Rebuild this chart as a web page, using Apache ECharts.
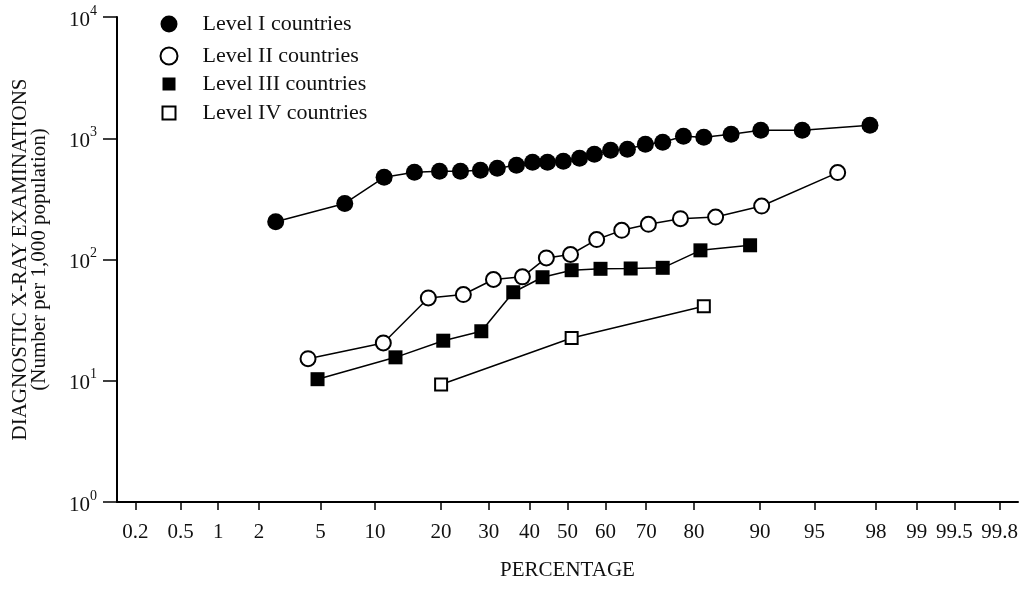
<!DOCTYPE html>
<html>
<head>
<meta charset="utf-8">
<title>Diagnostic X-ray examinations</title>
<script src="https://cdn.jsdelivr.net/npm/echarts@6/dist/echarts.min.js"></script>
<style>
    html, body { margin: 0; padding: 0; background: #fff; }
    #chart { width: 1030px; height: 591px; }
</style>
</head>
<body>
<div id="chart"></div>
<script>
// percentages (x) and examinations per 1,000 population (y)
const level1Pct = [2.6, 6.9, 11.1, 15.4, 19.7, 23.8, 28.1, 32.0, 36.7, 40.8, 44.7, 48.9, 53.2, 57.1, 61.3, 65.5, 69.8, 73.7, 78.0, 81.8, 86.2, 90.1, 94.1, 97.8];
const level1Val = [205, 290, 476, 524, 534, 534, 544, 565, 598, 634, 634, 645, 684, 738, 796, 811, 892, 927, 1039, 1019, 1080, 1165, 1165, 1280];

const level2Pct = [4.2, 11.0, 17.7, 24.4, 31.1, 38.2, 44.4, 50.8, 57.7, 64.1, 70.5, 77.4, 83.8, 90.2, 96.4];
const level2Val = [15.2, 20.5, 48.2, 51.4, 68.4, 71.9, 103, 110, 146, 174, 195, 217, 224, 276, 521];

const level3Pct = [4.8, 12.6, 20.4, 28.3, 35.9, 43.4, 51.1, 58.7, 66.3, 73.7, 81.2, 88.8];
const level3Val = [10.3, 15.6, 21.4, 25.6, 53.7, 71.4, 81.6, 83.8, 84.3, 85.4, 119, 131];

const level4Pct = [20.0, 51.1, 81.8];
const level4Val = [9.3, 22.5, 41.1];

const seriesNames = ['Level I countries', 'Level II countries', 'Level III countries', 'Level IV countries'];

// probability-scale ticks
const xTickLabels = ['0.2', '0.5', '1', '2', '5', '10', '20', '30', '40', '50', '60', '70', '80', '90', '95', '98', '99', '99.5', '99.8'];
const yTickValues = [1, 10, 100, 1000, 10000];

const FONT = '"Liberation Serif", "DejaVu Serif", serif';

// inverse normal cdf (Acklam), used to put percentages on probability paper
function probit(p) {
    const a = [-39.69683028665376, 220.9460984245205, -275.9285104469687, 138.3577518672690, -30.66479806614716, 2.506628277459239];
    const b = [-54.47609879822406, 161.5858368580409, -155.6989798598866, 66.80131188771972, -13.28068155288572];
    const c = [-0.007784894002430293, -0.3223964580411365, -2.400758277161838, -2.549732539343734, 4.374664141464968, 2.938163982698783];
    const d = [0.007784695709041462, 0.3224671290700398, 2.445134137142996, 3.754408661907416];
    const pl = 0.02425;
    let q, r;
    if (p < pl) {
        q = Math.sqrt(-2 * Math.log(p));
        return (((((c[0] * q + c[1]) * q + c[2]) * q + c[3]) * q + c[4]) * q + c[5]) /
            ((((d[0] * q + d[1]) * q + d[2]) * q + d[3]) * q + 1);
    }
    if (p > 1 - pl) {
        q = Math.sqrt(-2 * Math.log(1 - p));
        return -(((((c[0] * q + c[1]) * q + c[2]) * q + c[3]) * q + c[4]) * q + c[5]) /
            ((((d[0] * q + d[1]) * q + d[2]) * q + d[3]) * q + 1);
    }
    q = p - 0.5;
    r = q * q;
    return (((((a[0] * r + a[1]) * r + a[2]) * r + a[3]) * r + a[4]) * r + a[5]) * q /
        (((((b[0] * r + b[1]) * r + b[2]) * r + b[3]) * r + b[4]) * r + 1);
}

const xTickZ = xTickLabels.map(s => probit(parseFloat(s) / 100));

function toPoints(pcts, vals) {
    let pts = [];
    for (let i = 0; i < pcts.length; i++) {
        pts.push([probit(pcts[i] / 100), vals[i]]);
    }
    return pts;
}

const lineStyle = { color: '#000', width: 1.5 };

const chart = echarts.init(document.getElementById('chart'), null, { renderer: 'canvas' });

const option = {
    backgroundColor: '#fff',
    animation: false,
    textStyle: { fontFamily: FONT, color: '#111' },
    grid: { left: 117, right: 12, top: 17, bottom: 89, containLabel: false },
    legend: [
        {
            data: [seriesNames[0], seriesNames[1]],
            orient: 'vertical',
            left: 154.5,
            top: 8,
            itemWidth: 17,
            itemHeight: 17,
            itemGap: 10,
            icon: 'circle',
            selectedMode: false,
            textStyle: { fontFamily: FONT, fontSize: 22, lineHeight: 22, color: '#111', padding: [0, 0, 0, 20] }
        },
        {
            data: [seriesNames[2], seriesNames[3]],
            orient: 'vertical',
            left: 156.5,
            top: 68,
            itemWidth: 13,
            itemHeight: 13,
            itemGap: 7,
            icon: 'rect',
            selectedMode: false,
            textStyle: { fontFamily: FONT, fontSize: 22, lineHeight: 22, color: '#111', padding: [0, 0, 0, 22] }
        }
    ],
    xAxis: {
        type: 'value',
        min: -3,
        max: 3,
        name: 'PERCENTAGE',
        nameLocation: 'middle',
        nameGap: 58,
        nameTextStyle: { fontFamily: FONT, fontSize: 21, color: '#111' },
        axisLine: { onZero: false, lineStyle: { color: '#000', width: 2 } },
        axisTick: { customValues: xTickZ, length: 8, lineStyle: { color: '#000', width: 1.5 } },
        axisLabel: {
            customValues: xTickZ,
            margin: 20,
            fontFamily: FONT,
            fontSize: 21,
            color: '#111',
            formatter: function (v) {
                for (let i = 0; i < xTickZ.length; i++) {
                    if (Math.abs(xTickZ[i] - v) < 1e-6) return xTickLabels[i];
                }
                return '';
            }
        },
        splitLine: { show: false }
    },
    yAxis: {
        type: 'log',
        logBase: 10,
        min: 1,
        max: 10000,
        name: '{a|DIAGNOSTIC X-RAY EXAMINATIONS}\n{b|(Number per 1,000 population)}',
        nameLocation: 'middle',
        nameRotate: 90,
        nameGap: 68,
        nameTextStyle: {
            fontFamily: FONT,
            color: '#111',
            rich: {
                a: { fontFamily: FONT, fontSize: 21, lineHeight: 19, color: '#111' },
                b: { fontFamily: FONT, fontSize: 21, lineHeight: 19, color: '#111' }
            }
        },
        axisLine: { show: true, onZero: false, lineStyle: { color: '#000', width: 2 } },
        axisTick: { show: true, customValues: yTickValues, length: 14, lineStyle: { color: '#000', width: 1.5 } },
        axisLabel: {
            customValues: yTickValues,
            margin: 20,
            color: '#111',
            formatter: function (v) {
                const e = Math.round(Math.log10(v));
                return '{b|10}{s|' + e + '}';
            },
            rich: {
                b: { fontFamily: FONT, fontSize: 21, color: '#111', padding: [6, 0, 0, 0] },
                s: { fontFamily: FONT, fontSize: 14, color: '#111', padding: [0, 0, 12, 0] }
            }
        },
        splitLine: { show: false },
        minorTick: { show: false }
    },
    series: [
        {
            name: seriesNames[0],
            type: 'line',
            data: toPoints(level1Pct, level1Val),
            symbol: 'circle',
            symbolSize: 17,
            lineStyle: lineStyle,
            itemStyle: { color: '#000', borderWidth: 0 },
            z: 2
        },
        {
            name: seriesNames[1],
            type: 'line',
            data: toPoints(level2Pct, level2Val),
            symbol: 'circle',
            symbolSize: 15,
            lineStyle: lineStyle,
            itemStyle: { color: '#fff', borderColor: '#000', borderWidth: 2 },
            z: 3
        },
        {
            name: seriesNames[2],
            type: 'line',
            data: toPoints(level3Pct, level3Val),
            symbol: 'rect',
            symbolSize: 14,
            lineStyle: lineStyle,
            itemStyle: { color: '#000', borderWidth: 0 },
            z: 4
        },
        {
            name: seriesNames[3],
            type: 'line',
            data: toPoints(level4Pct, level4Val),
            symbol: 'rect',
            symbolSize: 12,
            lineStyle: lineStyle,
            itemStyle: { color: '#fff', borderColor: '#000', borderWidth: 2 },
            z: 5
        }
    ]
};

chart.setOption(option);
</script>
</body>
</html>
